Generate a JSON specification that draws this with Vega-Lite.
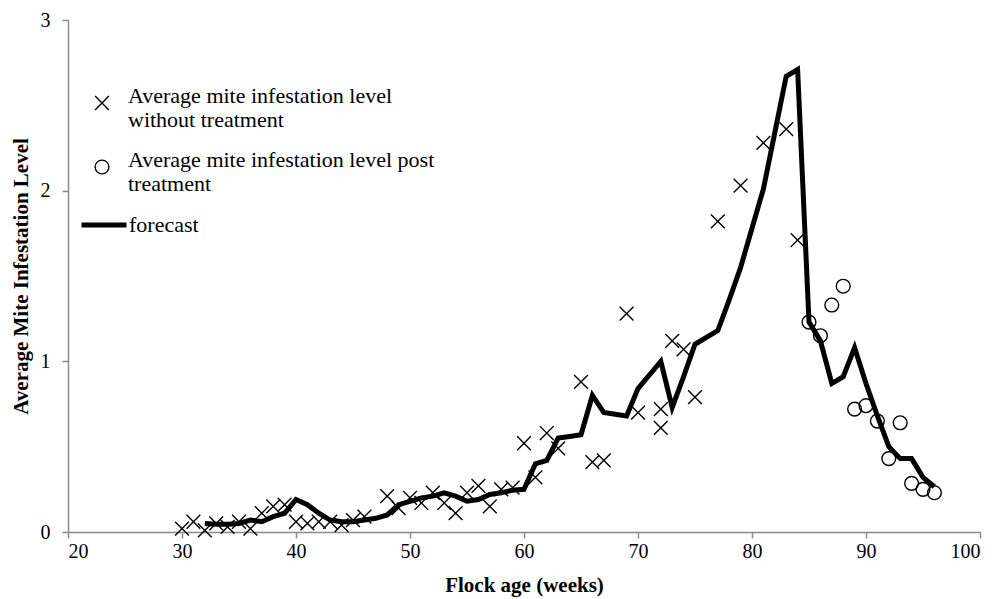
{
  "$schema": "https://vega.github.io/schema/vega-lite/v6.json",
  "width": 912,
  "height": 512,
  "autosize": {"type": "none"},
  "padding": {"left": 68, "top": 20, "right": 15, "bottom": 67},
  "background": "white",
  "config": {
    "view": {"stroke": null},
    "legend": {"padding": 0},
    "axis": {
      "grid": false,
      "domainColor": "#8a8a8a",
      "domainWidth": 1.5,
      "tickColor": "#8a8a8a",
      "tickWidth": 1.5,
      "tickSize": 6,
      "labelFont": "Liberation Serif",
      "labelFontSize": 20,
      "labelColor": "black",
      "titleFont": "Liberation Serif",
      "titleFontSize": 21,
      "titleFontWeight": "bold",
      "titleColor": "black"
    }
  },
  "datasets": {
    "obs": [
      {"week": 30, "value": 0.02, "series": "untreated"},
      {"week": 31, "value": 0.06, "series": "untreated"},
      {"week": 32, "value": 0.01, "series": "untreated"},
      {"week": 33, "value": 0.05, "series": "untreated"},
      {"week": 34, "value": 0.03, "series": "untreated"},
      {"week": 35, "value": 0.06, "series": "untreated"},
      {"week": 36, "value": 0.02, "series": "untreated"},
      {"week": 37, "value": 0.11, "series": "untreated"},
      {"week": 38, "value": 0.15, "series": "untreated"},
      {"week": 39, "value": 0.16, "series": "untreated"},
      {"week": 40, "value": 0.06, "series": "untreated"},
      {"week": 41, "value": 0.05, "series": "untreated"},
      {"week": 42, "value": 0.06, "series": "untreated"},
      {"week": 43, "value": 0.06, "series": "untreated"},
      {"week": 44, "value": 0.04, "series": "untreated"},
      {"week": 45, "value": 0.07, "series": "untreated"},
      {"week": 46, "value": 0.09, "series": "untreated"},
      {"week": 48, "value": 0.21, "series": "untreated"},
      {"week": 49, "value": 0.14, "series": "untreated"},
      {"week": 50, "value": 0.2, "series": "untreated"},
      {"week": 51, "value": 0.17, "series": "untreated"},
      {"week": 52, "value": 0.23, "series": "untreated"},
      {"week": 53, "value": 0.17, "series": "untreated"},
      {"week": 54, "value": 0.11, "series": "untreated"},
      {"week": 55, "value": 0.23, "series": "untreated"},
      {"week": 56, "value": 0.27, "series": "untreated"},
      {"week": 57, "value": 0.15, "series": "untreated"},
      {"week": 58, "value": 0.25, "series": "untreated"},
      {"week": 59, "value": 0.26, "series": "untreated"},
      {"week": 60, "value": 0.52, "series": "untreated"},
      {"week": 61, "value": 0.32, "series": "untreated"},
      {"week": 62, "value": 0.58, "series": "untreated"},
      {"week": 63, "value": 0.49, "series": "untreated"},
      {"week": 65, "value": 0.88, "series": "untreated"},
      {"week": 66, "value": 0.41, "series": "untreated"},
      {"week": 67, "value": 0.42, "series": "untreated"},
      {"week": 69, "value": 1.28, "series": "untreated"},
      {"week": 70, "value": 0.7, "series": "untreated"},
      {"week": 72, "value": 0.72, "series": "untreated"},
      {"week": 72, "value": 0.61, "series": "untreated"},
      {"week": 73, "value": 1.12, "series": "untreated"},
      {"week": 74, "value": 1.07, "series": "untreated"},
      {"week": 75, "value": 0.79, "series": "untreated"},
      {"week": 77, "value": 1.82, "series": "untreated"},
      {"week": 79, "value": 2.03, "series": "untreated"},
      {"week": 81, "value": 2.28, "series": "untreated"},
      {"week": 83, "value": 2.36, "series": "untreated"},
      {"week": 84, "value": 1.71, "series": "untreated"},
      {"week": 85, "value": 1.23, "series": "treated"},
      {"week": 86, "value": 1.15, "series": "treated"},
      {"week": 87, "value": 1.33, "series": "treated"},
      {"week": 88, "value": 1.44, "series": "treated"},
      {"week": 89, "value": 0.72, "series": "treated"},
      {"week": 90, "value": 0.74, "series": "treated"},
      {"week": 91, "value": 0.65, "series": "treated"},
      {"week": 92, "value": 0.43, "series": "treated"},
      {"week": 93, "value": 0.64, "series": "treated"},
      {"week": 94, "value": 0.285, "series": "treated"},
      {"week": 95, "value": 0.25, "series": "treated"},
      {"week": 96, "value": 0.23, "series": "treated"}
    ],
    "forecast": [
      {"week": 32, "value": 0.05}, {"week": 33, "value": 0.045}, {"week": 34, "value": 0.045},
      {"week": 35, "value": 0.05}, {"week": 36, "value": 0.07}, {"week": 37, "value": 0.06},
      {"week": 38, "value": 0.09}, {"week": 39, "value": 0.11}, {"week": 40, "value": 0.19},
      {"week": 41, "value": 0.16}, {"week": 42, "value": 0.11}, {"week": 43, "value": 0.07},
      {"week": 44, "value": 0.06}, {"week": 45, "value": 0.06}, {"week": 46, "value": 0.07},
      {"week": 47, "value": 0.08}, {"week": 48, "value": 0.1}, {"week": 49, "value": 0.16},
      {"week": 50, "value": 0.18}, {"week": 51, "value": 0.2}, {"week": 52, "value": 0.21},
      {"week": 53, "value": 0.23}, {"week": 54, "value": 0.21}, {"week": 55, "value": 0.18},
      {"week": 56, "value": 0.19}, {"week": 57, "value": 0.22}, {"week": 58, "value": 0.23},
      {"week": 59, "value": 0.245}, {"week": 60, "value": 0.25}, {"week": 61, "value": 0.4},
      {"week": 62, "value": 0.42}, {"week": 63, "value": 0.55}, {"week": 64, "value": 0.56},
      {"week": 65, "value": 0.57}, {"week": 66, "value": 0.8}, {"week": 67, "value": 0.7},
      {"week": 68, "value": 0.69}, {"week": 69, "value": 0.68}, {"week": 70, "value": 0.84},
      {"week": 71, "value": 0.92}, {"week": 72, "value": 1.0}, {"week": 73, "value": 0.73},
      {"week": 74, "value": 0.91}, {"week": 75, "value": 1.1}, {"week": 76, "value": 1.14},
      {"week": 77, "value": 1.18}, {"week": 78, "value": 1.36}, {"week": 79, "value": 1.55},
      {"week": 80, "value": 1.78}, {"week": 81, "value": 2.01}, {"week": 82, "value": 2.34},
      {"week": 83, "value": 2.67}, {"week": 84, "value": 2.71}, {"week": 85, "value": 1.23},
      {"week": 86, "value": 1.12}, {"week": 87, "value": 0.87}, {"week": 88, "value": 0.91},
      {"week": 89, "value": 1.08}, {"week": 90, "value": 0.87}, {"week": 91, "value": 0.68},
      {"week": 92, "value": 0.5}, {"week": 93, "value": 0.43}, {"week": 94, "value": 0.43},
      {"week": 95, "value": 0.32}, {"week": 96, "value": 0.265}
    ]
  },
  "layer": [
    {
      "data": {"name": "forecast"},
      "mark": {"type": "line", "strokeWidth": 5, "strokeJoin": "miter"},
      "encoding": {
        "x": {
          "field": "week", "type": "quantitative",
          "scale": {"domain": [20, 100], "nice": false, "zero": false},
          "axis": {"values": [20, 30, 40, 50, 60, 70, 80, 90, 100], "title": "Flock age (weeks)", "labelPadding": 3, "titlePadding": 13}
        },
        "y": {
          "field": "value", "type": "quantitative",
          "scale": {"domain": [0, 3], "nice": false},
          "axis": {"values": [0, 1, 2, 3], "format": "d", "title": "Average Mite Infestation Level", "labelPadding": 12, "titlePadding": 9}
        },
        "color": {
          "datum": "forecast",
          "scale": {"domain": ["forecast"], "range": ["black"]},
          "legend": {
            "orient": "none",
            "legendX": 11,
            "legendY": 180,
            "title": null,
            "symbolType": "stroke",
            "symbolSize": 2025,
            "symbolStrokeWidth": 5,
            "labelFont": "Liberation Serif",
            "labelFontSize": 22,
            "labelColor": "black",
            "labelOffset": 0
          }
        }
      }
    },
    {
      "data": {"name": "obs"},
      "mark": {"type": "point", "filled": false, "color": "black", "opacity": 1, "size": 190, "strokeWidth": 1.4},
      "encoding": {
        "x": {"field": "week", "type": "quantitative"},
        "y": {"field": "value", "type": "quantitative"},
        "shape": {
          "field": "series", "type": "nominal",
          "scale": {
            "domain": ["untreated", "treated"],
            "range": ["M-1,-1L1,1M-1,1L1,-1", "circle"]
          },
          "legend": {
            "orient": "none",
            "legendX": 23,
            "legendY": 72,
            "title": null,
            "symbolSize": 190,
            "symbolStrokeWidth": 1.4,
            "symbolStrokeColor": "black",
            "symbolFillColor": "transparent",
            "labelFont": "Liberation Serif",
            "labelFontSize": 22,
            "labelColor": "black",
            "labelBaseline": "alphabetic",
            "labelOffset": 15,
            "labelLimit": 420,
            "rowPadding": 18,
            "labelExpr": "datum.value == 'untreated' ? ['Average mite infestation level', 'without treatment'] : ['Average mite infestation level post', 'treatment']"
          }
        }
      }
    }
  ]
}
